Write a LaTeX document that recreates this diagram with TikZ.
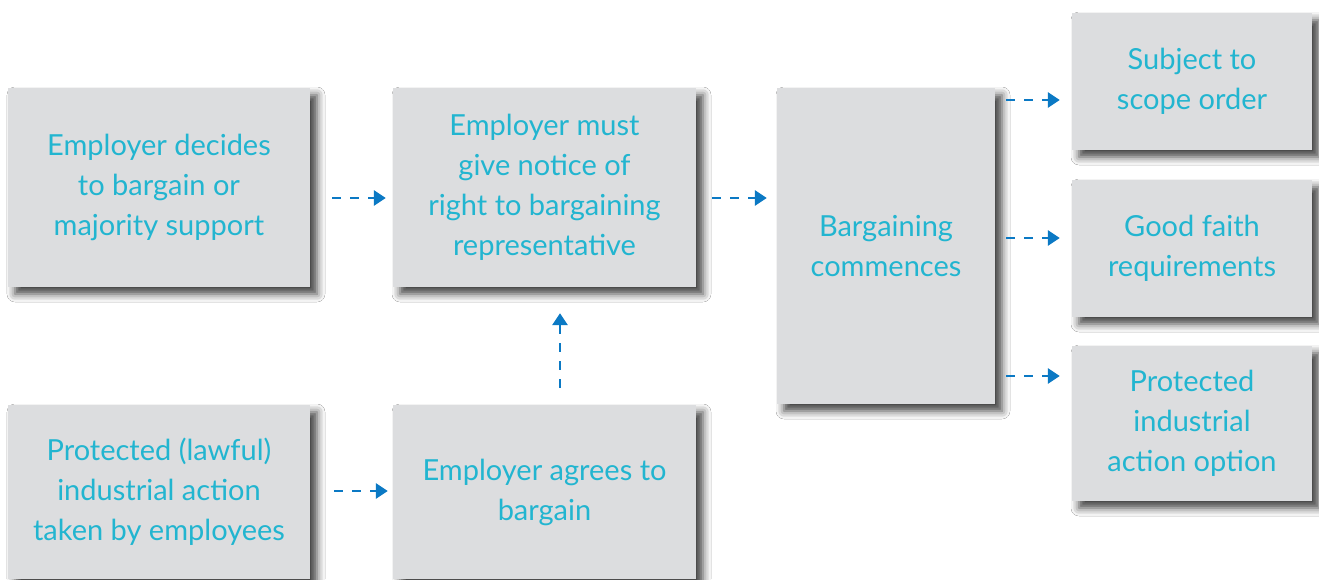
\documentclass[tikz,border=0pt]{standalone}
\usepackage{fontspec}
\setmainfont{Lato}
\usetikzlibrary{arrows.meta,shadows.blur}
\definecolor{boxgrey}{HTML}{DCDDDF}
\definecolor{txtcyan}{HTML}{22B5D0}
\definecolor{arrblue}{HTML}{0B79C4}
\tikzset{
  box/.style={fill=boxgrey, draw=none, align=center, inner sep=0pt,
    text=txtcyan, font=\fontsize{29}{40}\selectfont,
    blur shadow={shadow xshift=7pt, shadow yshift=-7pt, shadow blur radius=8pt, shadow opacity=75}},
  flow/.style={draw=arrblue, line width=2.8pt, dash pattern=on 9pt off 9pt,
    -{Triangle[length=12pt,width=15pt]}}
}
\begin{document}
\begin{tikzpicture}[x=1pt,y=-1pt]
\useasboundingbox[fill=white] (0,0) rectangle (1319,579);
\node[box, minimum width=302pt, minimum height=199pt] (A) at (159,187.5)
  {Employer decides\\to bargain or\\majority support};
\node[box, minimum width=303pt, minimum height=199pt] (B) at (544.5,187.5)
  {Employer must\\give notice of\\right to bargaining\\representative};
\node[box, minimum width=218pt, minimum height=316pt] (C) at (886,246)
  {Bargaining\\commences};
\node[box, minimum width=240pt, minimum height=137pt] (D1) at (1192,81.5)
  {Subject to\\scope order};
\node[box, minimum width=240pt, minimum height=137pt] (D2) at (1192,248.5)
  {Good faith\\requirements};
\node[box, minimum width=240pt, minimum height=155pt] (D3) at (1192,423.5)
  {Protected\\industrial\\action option};
\node[box, minimum width=302pt, minimum height=174pt] (E) at (159,492)
  {Protected (lawful)\\industrial action\\taken by employees};
\node[box, minimum width=303pt, minimum height=174pt] (F) at (544.5,492)
  {Employer agrees to\\bargain};
\draw[flow, shorten <=22pt, shorten >=7pt] ([yshift=-10.5pt]A.east) -- ([yshift=-10.5pt]B.west);
\draw[flow, shorten <=16pt, shorten >=10pt] ([yshift=-10.5pt]B.east) -- ([yshift=48pt]C.west);
\draw[flow, shorten <=17pt, shorten >=26pt] ([xshift=15.5pt]F.north) -- ([xshift=15.5pt]B.south);
\draw[flow, shorten <=24pt, shorten >=5pt] ([yshift=1pt]E.east) -- ([yshift=1pt]F.west);
\draw[flow, shorten <=11pt, shorten >=12pt] ([yshift=146pt]C.east) -- ([yshift=-18.5pt]D1.west);
\draw[flow, shorten <=11pt, shorten >=12pt] ([yshift=8pt]C.east) -- ([yshift=10.5pt]D2.west);
\draw[flow, shorten <=11pt, shorten >=12pt] ([yshift=-130pt]C.east) -- ([yshift=47.5pt]D3.west);
\end{tikzpicture}
\end{document}
